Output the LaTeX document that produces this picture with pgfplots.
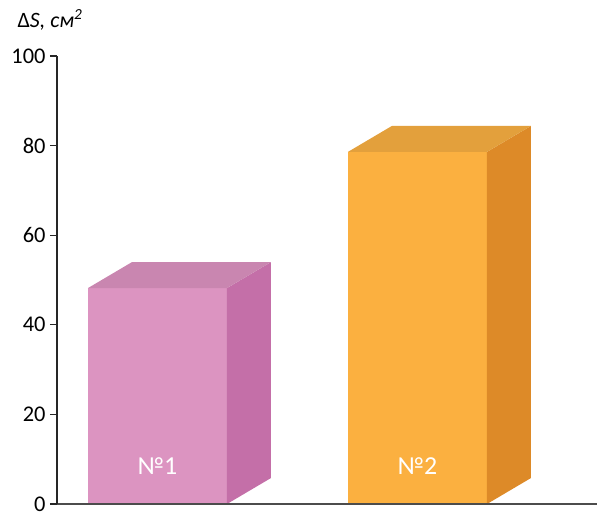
\documentclass[border=0pt]{standalone}
\usepackage{pgfplots}
\pgfplotsset{compat=1.18}
\usepackage{fontspec}
\setmainfont{Carlito}
\definecolor{pinkF}{HTML}{DC94C1}
\definecolor{pinkT}{HTML}{C986B0}
\definecolor{pinkS}{HTML}{C46FA8}
\definecolor{orF}{HTML}{FBB040}
\definecolor{orT}{HTML}{E3A03C}
\definecolor{orS}{HTML}{DD8A28}
\begin{document}
\begin{tikzpicture}
\useasboundingbox (-57bp,-9bp) rectangle (540bp,504bp);
\begin{axis}[
  scale only axis, width=540bp, height=448bp,
  xmin=0, xmax=540, ymin=0, ymax=100,
  axis lines*=left, axis on top, clip=false,
  xtick=\empty, ytick={0,20,...,100},
  tick align=outside, major tick length=7bp,
  y axis line style={draw=black!85, line width=1.3bp},
  x axis line style={draw=black!70, line width=1.5bp},
  ytick style={draw=black!85, line width=1.1bp},
  /pgf/number format/assume math mode=true,
  yticklabel style={font=\fontsize{22.5}{26}\selectfont, xshift=-1bp, inner ysep=0pt},
]
% bar 1
\addplot[fill=pinkF, draw=none] coordinates {(31,0) (170,0) (170,48.2) (31,48.2)} -- cycle;
\addplot[fill=pinkS, draw=none] coordinates {(170,0) (214,5.8) (214,54.0) (170,48.2)} -- cycle;
\addplot[fill=pinkT, draw=none] coordinates {(31,48.2) (170,48.2) (214,54.0) (75,54.0)} -- cycle;
% bar 2
\addplot[fill=orF, draw=none] coordinates {(291,0) (430,0) (430,78.6) (291,78.6)} -- cycle;
\addplot[fill=orS, draw=none] coordinates {(430,0) (474,5.8) (474,84.4) (430,78.6)} -- cycle;
\addplot[fill=orT, draw=none] coordinates {(291,78.6) (430,78.6) (474,84.4) (335,84.4)} -- cycle;
\node[text=white, font=\fontsize{26}{30}\selectfont] at (axis cs:100.5,8.5) {№1};
\node[text=white, font=\fontsize{26}{30}\selectfont] at (axis cs:360.5,8.5) {№2};
\end{axis}
\node[font=\fontsize{22}{26}\selectfont] at (-7bp,484bp) {Δ\textit{S}\textit{, см\textsuperscript{2}}};
\end{tikzpicture}
\end{document}
